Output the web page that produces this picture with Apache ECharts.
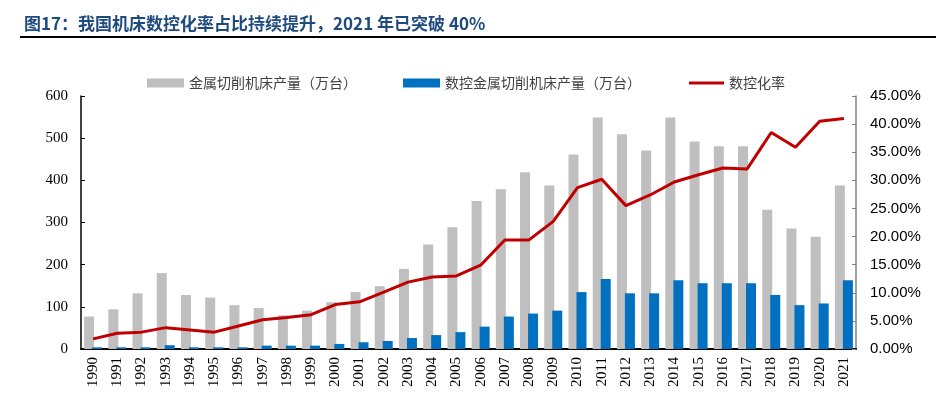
<!DOCTYPE html>
<html>
<head>
<meta charset="utf-8">
<script src="https://cdn.jsdelivr.net/npm/echarts@6/dist/echarts.min.js"></script>
<style>
html,body{margin:0;padding:0;background:#fff;}
#c{width:936px;height:395px;}
</style>
</head>
<body>
<div id="c"></div>
<script>
const years = ['1990','1991','1992','1993','1994','1995','1996','1997','1998','1999','2000','2001','2002','2003','2004','2005','2006','2007','2008','2009','2010','2011','2012','2013','2014','2015','2016','2017','2018','2019','2020','2021'];
const totalOutput = [77,94,132,180,128,122,104,97,80,91,111,135,149,190,248,289,351,379,419,388,461,549,509,471,549,492,481,481,330,286,266,388];
const cncOutput = [4,4,4,9,4,4,4,8,8,8,12,16,19,26,33,40,53,77,84,91,135,166,132,132,163,156,156,156,128,104,108,163];
const cncRate = [1.8,2.8,3.0,3.8,3.4,3.0,4.1,5.2,5.6,6.1,7.9,8.4,10.1,11.9,12.8,13.0,14.9,19.4,19.4,22.7,28.7,30.2,25.5,27.4,29.7,31.0,32.2,32.0,38.5,35.9,40.5,41.0];
const leftTicks = {min:0, max:600, interval:100};
const rightTicks = {min:0, max:45, interval:5};
const titleText = '图17：我国机床数控化率占比持续提升，2021 年已突破 40%';
const names = ['金属切削机床产量（万台）','数控金属切削机床产量（万台）','数控化率'];

const chart = echarts.init(document.getElementById('c'));
const serif = '"Liberation Serif","DejaVu Serif",serif';
const sans = '"Liberation Sans",Arial,sans-serif';
const cjk = '"Noto Sans CJK SC","Noto Sans",sans-serif';
const legendText = {fontFamily: cjk, fontSize: 14, color: '#404040'};
chart.setOption({
  animation: false,
  title: {
    text: titleText, left: 19, top: 10,
    textStyle: {fontFamily: '"Noto Sans CJK SC",sans-serif', fontSize: 17, fontWeight: 'bold', color: '#1f4a7e'}
  },
  graphic: [{type:'line', shape:{x1:20,y1:37,x2:936,y2:37}, style:{stroke:'#000', lineWidth:2}}],
  legend: [
    {data:[names[0]], left:147, top:76, padding:0, itemWidth:37, itemHeight:9, icon:'rect', textStyle:legendText},
    {data:[names[1]], left:403, top:76, padding:0, itemWidth:37, itemHeight:9, icon:'rect', textStyle:legendText},
    {data:[names[2]], left:689, top:76, padding:0, itemWidth:35, itemHeight:3, icon:'rect', textStyle:legendText}
  ],
  grid: {left:81, right:80, top:96, bottom:46, containLabel:false},
  xAxis: {
    type:'category', data: years,
    axisLine:{lineStyle:{color:'#000', width:2}},
    axisTick:{show:false},
    axisLabel:{rotate:90, interval:0, fontFamily:serif, fontSize:15, color:'#000', margin:8}
  },
  yAxis: [
    {type:'value', min:leftTicks.min, max:leftTicks.max, interval:leftTicks.interval,
     axisLine:{show:true, lineStyle:{color:'#000', width:1.5}},
     axisTick:{show:true, inside:true, length:4, lineStyle:{color:'#000'}},
     splitLine:{show:false},
     axisLabel:{fontFamily:serif, fontSize:15, color:'#000', margin:13}},
    {type:'value', min:rightTicks.min, max:rightTicks.max, interval:rightTicks.interval,
     axisLine:{show:true, lineStyle:{color:'#808080', width:1.5}},
     axisTick:{show:true, inside:true, length:4, lineStyle:{color:'#808080'}},
     splitLine:{show:false},
     axisLabel:{fontFamily:sans, fontSize:15, color:'#000', margin:14, formatter: v => v.toFixed(2)+'%'}}
  ],
  series: [
    {name:names[0], type:'bar', data: totalOutput, barWidth:10, barGap:'-20%', itemStyle:{color:'#bfbfbf'}},
    {name:names[1], type:'bar', data: cncOutput, barWidth:10, barGap:'-20%', itemStyle:{color:'#0070c0'}},
    {name:names[2], type:'line', yAxisIndex:1, data: cncRate, symbol:'none', lineStyle:{color:'#c00000', width:3}, itemStyle:{color:'#c00000'}}
  ]
});
</script>
</body>
</html>
